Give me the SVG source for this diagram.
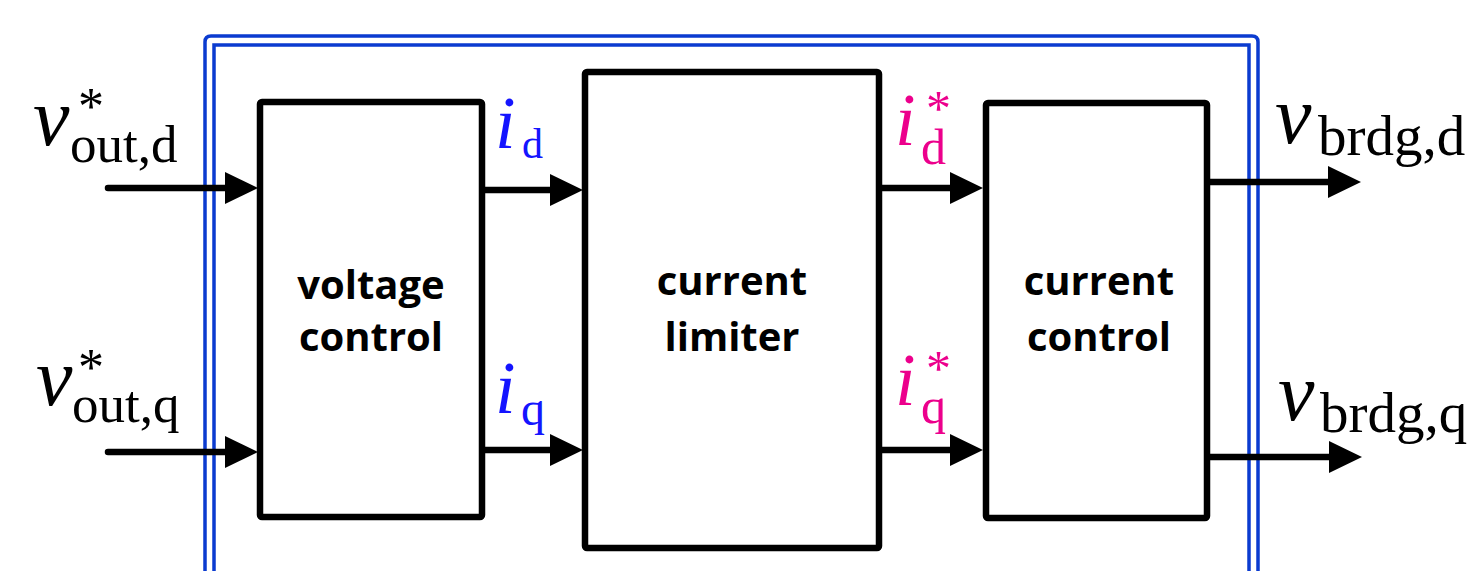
<svg xmlns="http://www.w3.org/2000/svg" width="1474" height="571" viewBox="0 0 1474 571">
<style>
.box{fill:#fff;stroke:#000;stroke-width:6.5;stroke-linejoin:round}
.frame{fill:none;stroke:#0b3bd0;stroke-width:3.5}
.wire{fill:none;stroke:#000;stroke-width:6.5;stroke-linecap:round}
.lbl{font-family:"Open Sans","Noto Sans",sans-serif;font-weight:bold;font-size:40px;fill:#000;text-anchor:middle}
.m{font-family:"Liberation Serif","Times New Roman",serif}
.mi{font-style:italic}
.blue{fill:#1414ff}
.pink{fill:#ec008c}
</style>
<defs>
<marker id="ah" markerUnits="userSpaceOnUse" markerWidth="34" markerHeight="32" refX="8" refY="16" orient="auto" overflow="visible">
<path d="M0,0 L33,16 L0,32 Z" fill="#000"/>
</marker>
</defs>
<g id="frame">
<path class="frame" d="M205,580 L205,42 Q205,36 211,36 L1252,36 Q1258,36 1258,42 L1258,580"/>
<path class="frame" d="M214,580 L214,45 L1249,45 L1249,580"/>
</g>
<g id="voltage-control">
<rect class="box" x="260" y="102" width="222" height="415" rx="2"/>
<text class="lbl" x="371" y="299">voltage</text>
<text class="lbl" x="371" y="351">control</text>
</g>
<g id="current-limiter">
<rect class="box" x="585" y="72" width="294" height="476" rx="2"/>
<text class="lbl" x="732" y="295">current</text>
<text class="lbl" x="732" y="351">limiter</text>
</g>
<g id="current-control">
<rect class="box" x="986" y="103" width="221" height="415" rx="2"/>
<text class="lbl" x="1099" y="295">current</text>
<text class="lbl" x="1099" y="351">control</text>
</g>
<g id="connectors">
<path class="wire" d="M108,188 L233,188" marker-end="url(#ah)"/>
<path class="wire" d="M108,452 L233,452" marker-end="url(#ah)"/>
<path class="wire" d="M483,190 L558,190" marker-end="url(#ah)"/>
<path class="wire" d="M483,450 L558,450" marker-end="url(#ah)"/>
<path class="wire" d="M880,188 L958,188" marker-end="url(#ah)"/>
<path class="wire" d="M880,450 L958,450" marker-end="url(#ah)"/>
<path class="wire" d="M1207,182 L1336,182" marker-end="url(#ah)" style="stroke-linecap:butt"/>
<path class="wire" d="M1207,457 L1337,457" marker-end="url(#ah)" style="stroke-linecap:butt"/>
</g>
<g id="labels">
<g id="v-out-d">
<text class="m mi" x="33" y="145" font-size="82">v</text>
<text class="m" x="78" y="124" font-size="52">*</text>
<text class="m" x="70" y="162" font-size="53">out,d</text>
</g>
<g id="v-out-q">
<text class="m mi" x="36" y="405" font-size="82">v</text>
<text class="m" x="78" y="385" font-size="52">*</text>
<text class="m" x="72" y="422" font-size="53">out,q</text>
</g>
<g id="i-d">
<text class="m mi blue" x="495" y="148" font-size="74">i</text>
<text class="m blue" x="522" y="158" font-size="42">d</text>
</g>
<g id="i-q">
<text class="m mi blue" x="495" y="413" font-size="74">i</text>
<text class="m blue" x="521" y="425" font-size="48">q</text>
</g>
<g id="i-d-star">
<text class="m mi pink" x="895" y="145" font-size="74">i</text>
<text class="m pink" x="926" y="125" font-size="50">*</text>
<text class="m pink" x="921" y="164" font-size="50">d</text>
</g>
<g id="i-q-star">
<text class="m mi pink" x="895" y="405" font-size="74">i</text>
<text class="m pink" x="926" y="385" font-size="50">*</text>
<text class="m pink" x="921" y="423" font-size="50">q</text>
</g>
<g id="v-brdg-d">
<text class="m mi" x="1275" y="143" font-size="82">v</text>
<text class="m" x="1318" y="155" font-size="57">brdg,d</text>
</g>
<g id="v-brdg-q">
<text class="m mi" x="1278" y="420" font-size="82">v</text>
<text class="m" x="1320" y="432" font-size="57">brdg,q</text>
</g>
</g>
</svg>
